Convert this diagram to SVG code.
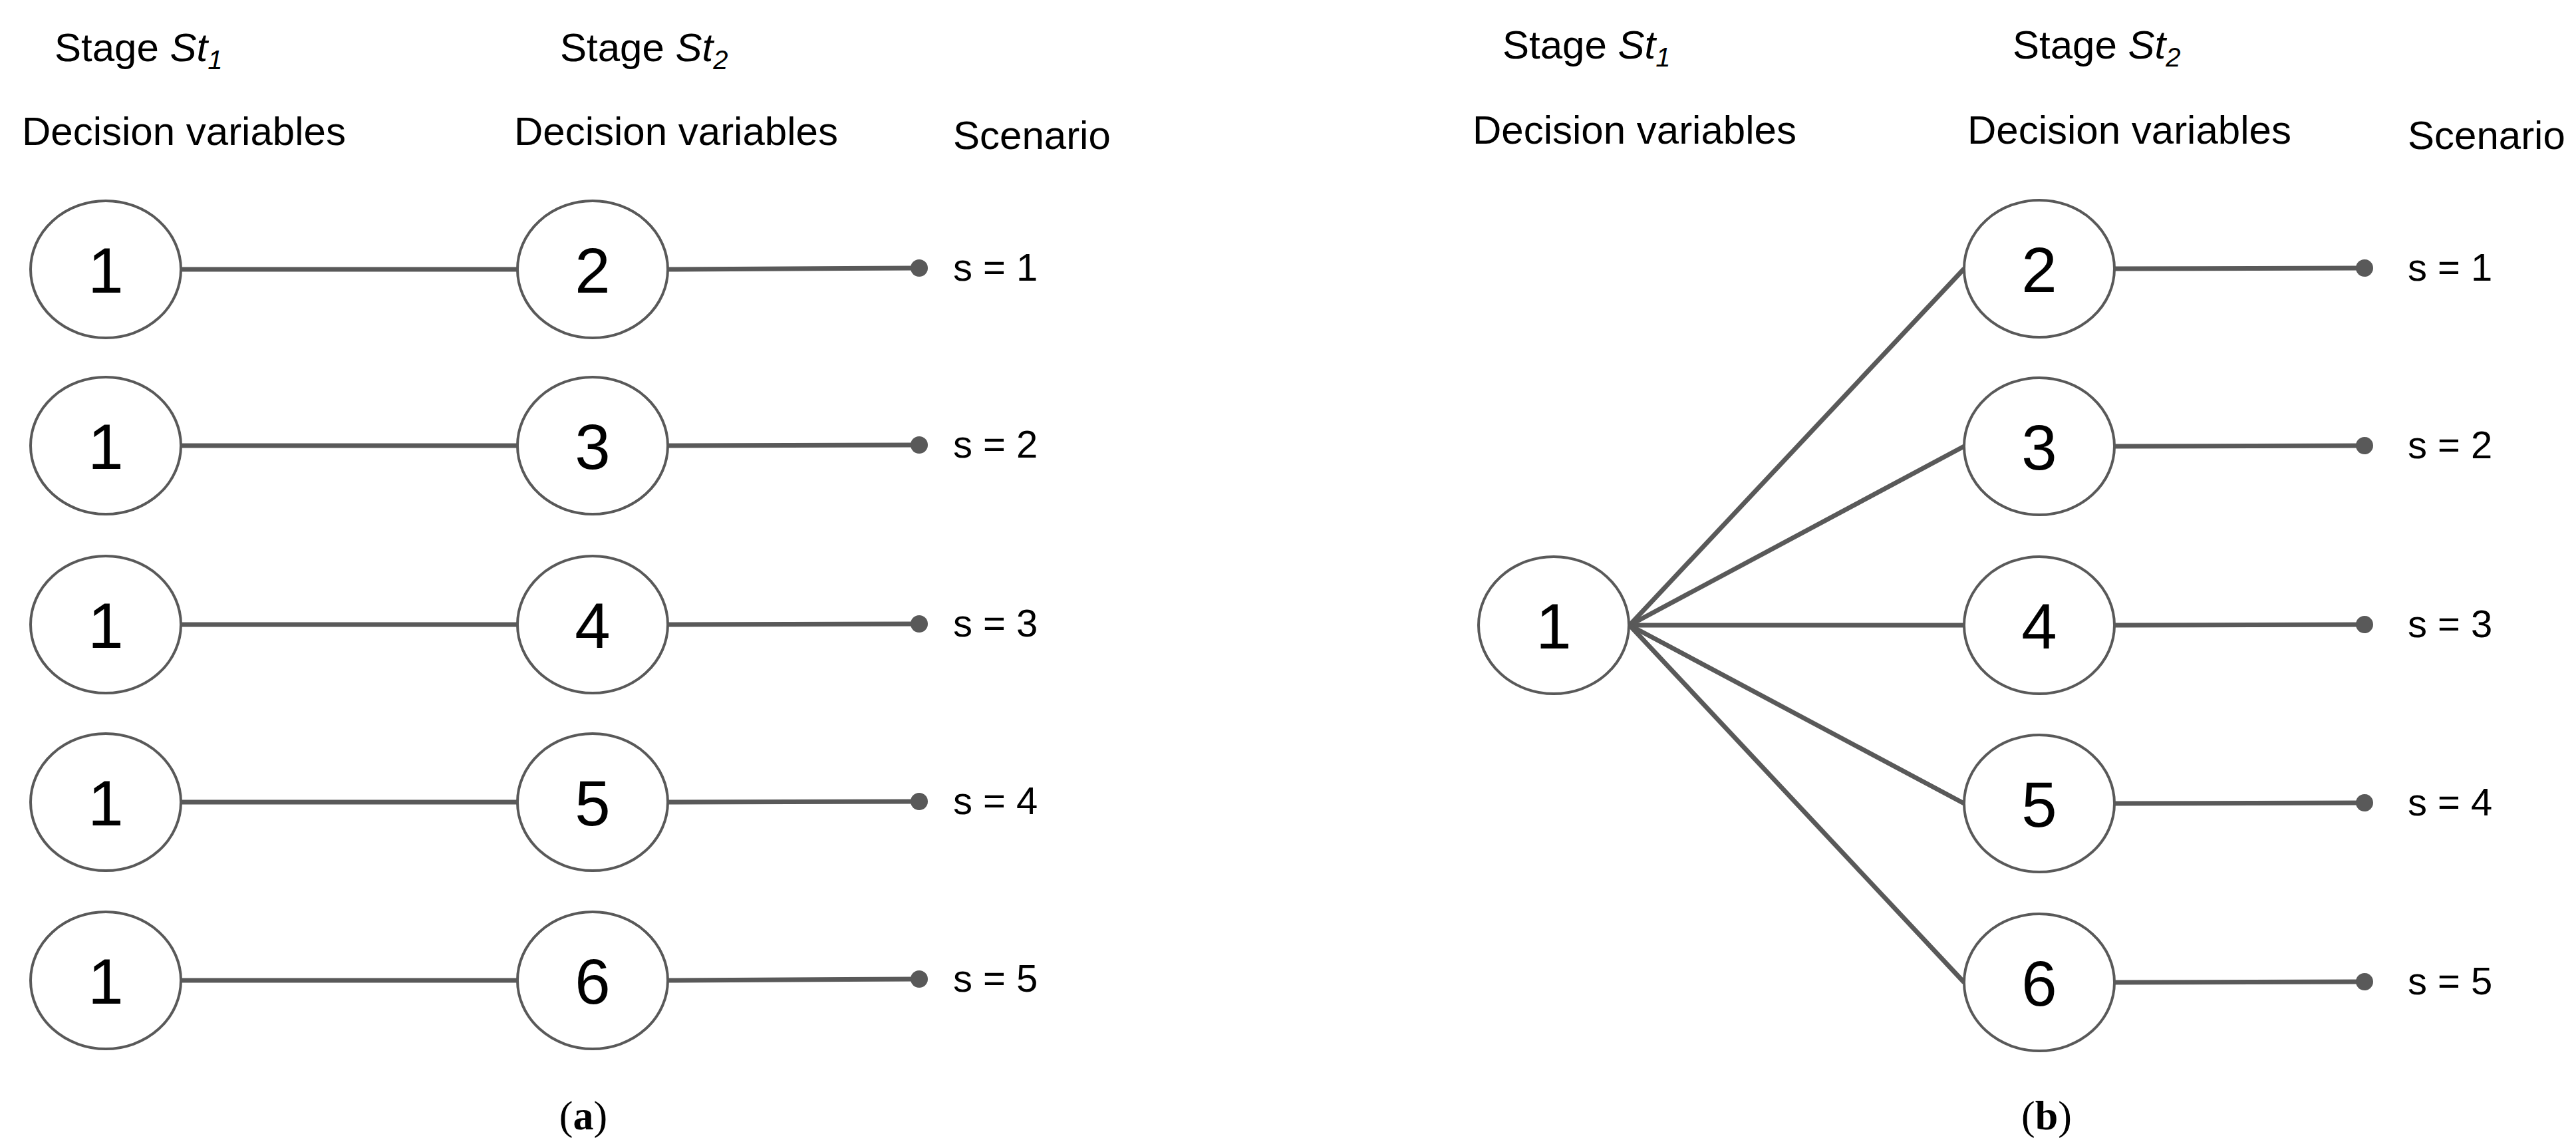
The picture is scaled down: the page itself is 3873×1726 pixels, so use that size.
<svg xmlns="http://www.w3.org/2000/svg" width="3873" height="1726" viewBox="0 0 3873 1726">
<style>
text{font-family:"Liberation Sans",Arial,sans-serif;fill:#000}
.h{font-size:60px}
.n{font-size:96px;text-anchor:middle}
.s{font-size:58px}
.cap{font-family:"Liberation Serif","Times New Roman",serif;font-size:62px;text-anchor:middle}
ellipse{fill:#fff;stroke:#595959;stroke-width:4}
line{stroke:#595959;stroke-width:7}
circle{fill:#595959}
</style>
<rect width="3873" height="1726" fill="#fff"/>
<g id="connectors">
<line x1="273" y1="405" x2="777" y2="405"/><line x1="1005" y1="405" x2="1382" y2="403"/>
<line x1="273" y1="670" x2="777" y2="670"/><line x1="1005" y1="670" x2="1382" y2="669"/>
<line x1="273" y1="939" x2="777" y2="939"/><line x1="1005" y1="939" x2="1382" y2="938"/>
<line x1="273" y1="1206" x2="777" y2="1206"/><line x1="1005" y1="1206" x2="1382" y2="1205"/>
<line x1="273" y1="1474" x2="777" y2="1474"/><line x1="1005" y1="1474" x2="1382" y2="1472"/>
<circle cx="1382" cy="403" r="13"/><circle cx="1382" cy="669" r="13"/><circle cx="1382" cy="938" r="13"/><circle cx="1382" cy="1205" r="13"/><circle cx="1382" cy="1472" r="13"/>
<line x1="2450" y1="940" x2="2953" y2="404"/>
<line x1="2450" y1="940" x2="2953" y2="671"/>
<line x1="2450" y1="940" x2="2953" y2="940"/>
<line x1="2450" y1="940" x2="2953" y2="1208"/>
<line x1="2450" y1="940" x2="2953" y2="1477"/>
<line x1="3180" y1="404" x2="3555" y2="403"/><line x1="3180" y1="671" x2="3555" y2="670"/><line x1="3180" y1="940" x2="3555" y2="939"/><line x1="3180" y1="1208" x2="3555" y2="1207"/><line x1="3180" y1="1477" x2="3555" y2="1476"/>
<circle cx="3555" cy="403" r="13"/><circle cx="3555" cy="670" r="13"/><circle cx="3555" cy="939" r="13"/><circle cx="3555" cy="1207" r="13"/><circle cx="3555" cy="1476" r="13"/>
</g>
<g id="headers">
<text class="h" x="82" y="92">Stage <tspan font-style="italic">St</tspan><tspan font-style="italic" font-size="40" dy="12">1</tspan></text>
<text class="h" x="842" y="92">Stage <tspan font-style="italic">St</tspan><tspan font-style="italic" font-size="40" dy="12">2</tspan></text>
<text class="h" x="33" y="218">Decision variables</text>
<text class="h" x="773" y="218">Decision variables</text>
<text class="h" x="1433" y="224">Scenario</text>
<text class="h" x="2259" y="88">Stage <tspan font-style="italic">St</tspan><tspan font-style="italic" font-size="40" dy="12">1</tspan></text>
<text class="h" x="3026" y="88">Stage <tspan font-style="italic">St</tspan><tspan font-style="italic" font-size="40" dy="12">2</tspan></text>
<text class="h" x="2214" y="216">Decision variables</text>
<text class="h" x="2958" y="216">Decision variables</text>
<text class="h" x="3620" y="224">Scenario</text>
</g>
<g id="a1"><ellipse cx="159" cy="405" rx="113" ry="103"/><text class="n" x="159" y="440">1</text></g>
<g id="a1b"><ellipse cx="159" cy="670" rx="113" ry="103"/><text class="n" x="159" y="705">1</text></g>
<g id="a1c"><ellipse cx="159" cy="939" rx="113" ry="103"/><text class="n" x="159" y="974">1</text></g>
<g id="a1d"><ellipse cx="159" cy="1206" rx="113" ry="103"/><text class="n" x="159" y="1241">1</text></g>
<g id="a1e"><ellipse cx="159" cy="1474" rx="113" ry="103"/><text class="n" x="159" y="1509">1</text></g>
<g id="a2"><ellipse cx="891" cy="405" rx="113" ry="103"/><text class="n" x="891" y="440">2</text></g>
<g id="a3"><ellipse cx="891" cy="670" rx="113" ry="103"/><text class="n" x="891" y="705">3</text></g>
<g id="a4"><ellipse cx="891" cy="939" rx="113" ry="103"/><text class="n" x="891" y="974">4</text></g>
<g id="a5"><ellipse cx="891" cy="1206" rx="113" ry="103"/><text class="n" x="891" y="1241">5</text></g>
<g id="a6"><ellipse cx="891" cy="1474" rx="113" ry="103"/><text class="n" x="891" y="1509">6</text></g>
<g id="as">
<text class="s" x="1433" y="422">s = 1</text><text class="s" x="1433" y="688">s = 2</text><text class="s" x="1433" y="957">s = 3</text><text class="s" x="1433" y="1224">s = 4</text><text class="s" x="1433" y="1491">s = 5</text>
</g>
<g id="b1"><ellipse cx="2336" cy="940" rx="113" ry="103"/><text class="n" x="2336" y="975">1</text></g>
<g id="b2"><ellipse cx="3066" cy="404" rx="113" ry="103"/><text class="n" x="3066" y="439">2</text></g>
<g id="b3"><ellipse cx="3066" cy="671" rx="113" ry="103"/><text class="n" x="3066" y="706">3</text></g>
<g id="b4"><ellipse cx="3066" cy="940" rx="113" ry="103"/><text class="n" x="3066" y="975">4</text></g>
<g id="b5"><ellipse cx="3066" cy="1208" rx="113" ry="103"/><text class="n" x="3066" y="1243">5</text></g>
<g id="b6"><ellipse cx="3066" cy="1477" rx="113" ry="103"/><text class="n" x="3066" y="1512">6</text></g>
<g id="bs">
<text class="s" x="3620" y="422">s = 1</text><text class="s" x="3620" y="689">s = 2</text><text class="s" x="3620" y="958">s = 3</text><text class="s" x="3620" y="1226">s = 4</text><text class="s" x="3620" y="1495">s = 5</text>
</g>
<text class="cap" x="877" y="1698">(<tspan font-weight="bold">a</tspan>)</text>
<text class="cap" x="3077" y="1698">(<tspan font-weight="bold">b</tspan>)</text>
</svg>
